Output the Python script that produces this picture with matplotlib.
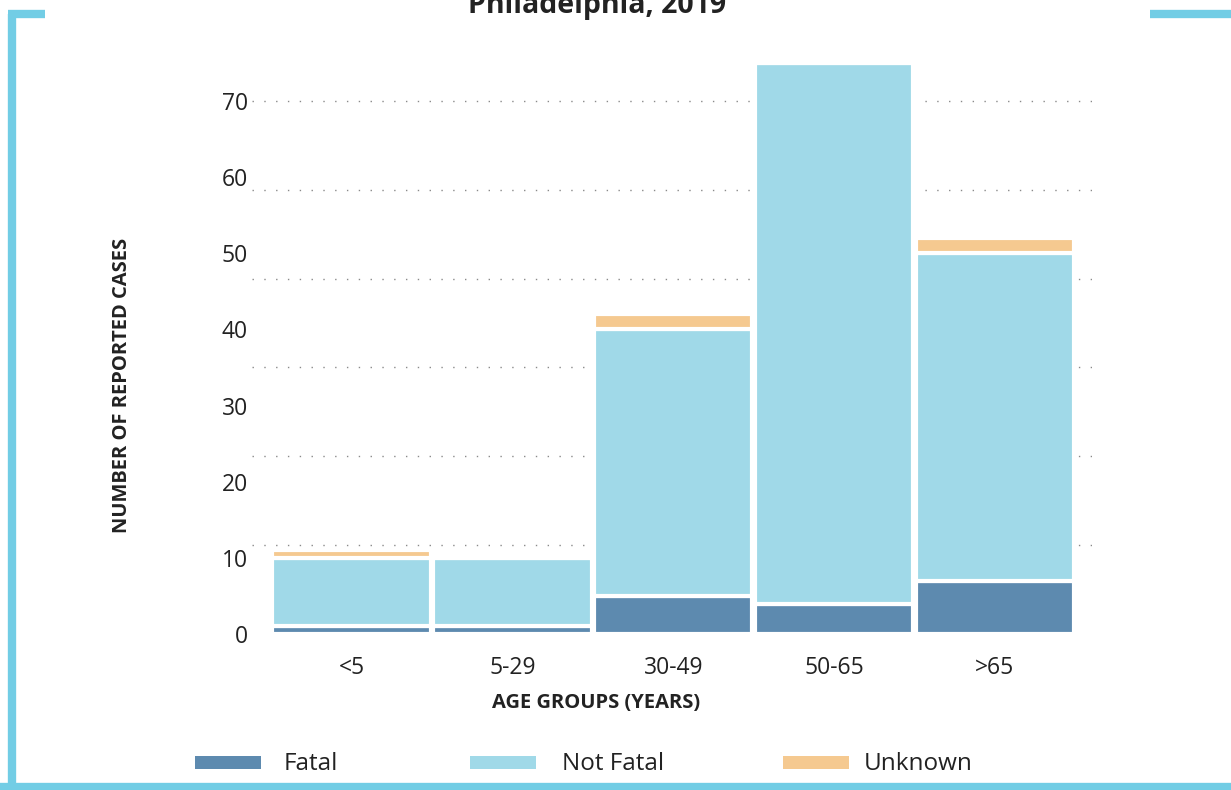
import numpy as np
import matplotlib.pyplot as plt
from matplotlib.patches import Rectangle
from matplotlib.lines import Line2D

plt.rcParams['font.family'] = ['Open Sans', 'DejaVu Sans']

# case counts per age group
age_groups = ['<5', '5-29', '30-49', '50-65', '>65']
fatal = [1, 1, 5, 4, 7]
not_fatal = [9, 9, 35, 71, 43]
unknown = [1, 0, 2, 0, 2]

y_ticks = [0, 10, 20, 30, 40, 50, 60, 70]

c_fatal = '#5d8aaf'
c_not_fatal = '#a0d9e8'
c_unknown = '#f5c990'
c_frame = '#72cde5'
c_text = '#222222'

W, H = 1231, 790
fig = plt.figure(figsize=(W / 100, H / 100), dpi=100)

# axes placed in pixel terms
left, right, bottom, top = 252, 1092, 790 - 634, 790 - 40
ax = fig.add_axes([left / W, bottom / H, (right - left) / W, (top - bottom) / H])

x = np.arange(len(age_groups))
fatal = np.array(fatal)
not_fatal = np.array(not_fatal)
unknown = np.array(unknown)

bar_kw = dict(width=0.985, edgecolor='white', linewidth=3, zorder=3)
ax.bar(x, fatal, color=c_fatal, **bar_kw)
ax.bar(x, not_fatal, bottom=fatal, color=c_not_fatal, **bar_kw)
ax.bar(x, unknown, bottom=fatal + not_fatal, color=c_unknown, **bar_kw)

ax.set_xlim(-0.62, 4.605)
ax.set_ylim(0, 78)

ax.set_yticks(y_ticks)
ax.set_yticklabels([str(t) for t in y_ticks], fontsize=16.5, color=c_text)
ax.set_xticks(x)
ax.set_xticklabels(age_groups, fontsize=16.5, color=c_text)
ax.tick_params(axis='both', length=0)
ax.tick_params(axis='y', pad=3)
ax.tick_params(axis='x', pad=16)

# dotted guide lines (6 bands between 0 and 70)
ax.yaxis.remove_overlapping_locs = False
ax.set_yticks(np.linspace(0, 70, 7)[1:], minor=True)
ax.tick_params(axis='y', which='minor', length=0)
ax.grid(which='minor', axis='y', color='#8a8a8a', linestyle=(0, (1, 7.5)), linewidth=1.0, zorder=0)
ax.grid(which='major', visible=False)

for s in ax.spines.values():
    s.set_visible(False)

# axis titles
fig.text(596 / W, 1 - 703 / H, 'AGE GROUPS (YEARS)', fontsize=14.5, fontweight='bold',
         color=c_text, ha='center', va='center')
fig.text(122 / W, 1 - 385 / H, 'NUMBER OF REPORTED CASES', rotation=90, fontsize=14.5,
         fontweight='bold', color=c_text, ha='center', va='center')

# title, partly cut by the top edge
fig.text(597 / W, 1 - 13 / H, 'Philadelphia, 2019', fontsize=20.5, fontweight='bold',
         color=c_text, ha='center', va='baseline')

# legend drawn by hand along the bottom
legend_items = [('Fatal', c_fatal, 195, 284), ('Not Fatal', c_not_fatal, 470, 562),
                ('Unknown', c_unknown, 783, 864)]
for label, col, px, tx in legend_items:
    fig.patches.append(Rectangle((px / W, 1 - 769 / H), 66 / W, 13 / H, transform=fig.transFigure,
                                 facecolor=col, edgecolor='none'))
    fig.text(tx / W, 1 - 764 / H, label, fontsize=17.5, color=c_text, ha='left', va='center')

# light blue frame pieces
frame = [((12, 12), (14, 790)), ((8, 45), (14, 14)), ((1150, 1231), (14, 14)), ((0, 1231), (787, 787))]
for xs, ys in frame:
    fig.lines.append(Line2D([v / W for v in xs], [1 - v / H for v in ys], transform=fig.transFigure,
                            color=c_frame, linewidth=6, solid_capstyle='butt'))

fig.savefig('out.png', dpi=100)
